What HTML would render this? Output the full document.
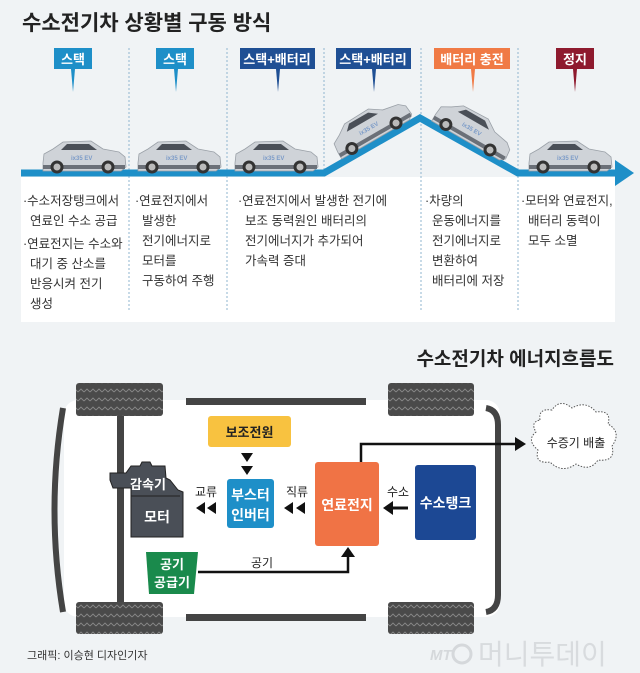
<!DOCTYPE html>
<html><head><meta charset="utf-8"><style>
body{margin:0;background:#f0f3f5;}
svg{display:block;font-family:"Liberation Sans","Noto Sans CJK KR",sans-serif;}
</style></head><body>
<svg width="640" height="673" viewBox="0 0 640 673" xmlns="http://www.w3.org/2000/svg">
<defs>
<g id="car">
<path d="M2,22 L3,13 L12,8 L22,1 L50,0 L62,8 L78,11 L84,16 L85,26 L80,30 L2,30 Z" fill="#cfd3d8" stroke="#9aa0a7" stroke-width="0.8"/>
<path d="M20,9 L26,3 L48,3 L56,9 Z" fill="#4a4f57"/>
<rect x="2" y="24" width="82" height="4" fill="#6b7078"/>
<circle cx="16" cy="26" r="6.5" fill="#333"/><circle cx="16" cy="26" r="3.5" fill="#bbb"/>
<circle cx="67" cy="26" r="6.5" fill="#333"/><circle cx="67" cy="26" r="3.5" fill="#bbb"/>
<text x="30" y="19" font-size="6" fill="#7b9bc8" font-weight="bold">ix35 EV</text>
</g>
<pattern id="tread" width="6" height="9" patternUnits="userSpaceOnUse">
<rect width="6" height="9" fill="#4a4a4a"/>
<path d="M0,5 L3,2 L6,5" fill="none" stroke="#888" stroke-width="0.9"/>
</pattern>
</defs>
<rect width="640" height="673" fill="#f0f3f5"/>
<text x="22" y="30" font-size="21" font-weight="bold" fill="#222">수소전기차 상황별 구동 방식</text>
<rect x="21" y="177" width="594" height="145" fill="#fff"/>
<g stroke="#8fb5cf" stroke-width="1" stroke-dasharray="2,2">
<line x1="129" y1="48" x2="129" y2="312"/><line x1="227" y1="48" x2="227" y2="312"/>
<line x1="324" y1="48" x2="324" y2="175"/><line x1="421" y1="48" x2="421" y2="312"/>
<line x1="518" y1="48" x2="518" y2="312"/>
</g>
<g font-size="13" font-weight="bold" fill="#fff" text-anchor="middle">
<rect x="54" y="48" width="38" height="21" fill="#1e8fc8"/><path d="M71,69 L73,92 L75,69Z" fill="#1e8fc8"/><text x="73" y="64">스택</text>
<rect x="156" y="48" width="38" height="21" fill="#1e8fc8"/><path d="M174,69 L176,92 L178,69Z" fill="#1e8fc8"/><text x="175" y="64">스택</text>
<rect x="240" y="48" width="75" height="21" fill="#1f4f94"/><path d="M276,69 L278,92 L280,69Z" fill="#1f4f94"/><text x="277" y="64">스택+배터리</text>
<rect x="336" y="48" width="75" height="21" fill="#1f4f94"/><path d="M372,69 L374,92 L376,69Z" fill="#1f4f94"/><text x="373" y="64">스택+배터리</text>
<rect x="434" y="48" width="76" height="21" fill="#f07a45"/><path d="M471,69 L473,92 L475,69Z" fill="#f07a45"/><text x="472" y="64">배터리 충전</text>
<rect x="556" y="48" width="38" height="21" fill="#8e1a2e"/><path d="M573,69 L575,92 L577,69Z" fill="#8e1a2e"/><text x="575" y="64">정지</text>
</g>
<path d="M21,173 L324,173 L420,118 L518,173 L618,173" fill="none" stroke="#1e8fc8" stroke-width="7" stroke-linejoin="miter"/>
<path d="M615,160 L634,173 L615,186Z" fill="#1e8fc8"/>
<use href="#car" x="41" y="141"/>
<use href="#car" x="136" y="141"/>
<use href="#car" x="233" y="141"/>
<use href="#car" transform="translate(325,134) rotate(-30)"/>
<use href="#car" transform="translate(445,94) rotate(30)"/>
<use href="#car" x="527" y="141"/>
<g font-size="12.5" fill="#333">
<text x="23" y="205">·수소저장탱크에서</text><text x="30" y="225">연료인 수소 공급</text>
<text x="23" y="248">·연료전지는 수소와</text><text x="30" y="268">대기 중 산소를</text><text x="30" y="288">반응시켜 전기</text><text x="30" y="308">생성</text>
<text x="135" y="205">·연료전지에서</text><text x="142" y="225">발생한</text><text x="142" y="245">전기에너지로</text><text x="142" y="265">모터를</text><text x="142" y="285">구동하여 주행</text>
<text x="238" y="205">·연료전지에서 발생한 전기에</text><text x="245" y="225">보조  동력원인 배터리의</text><text x="245" y="245">전기에너지가 추가되어</text><text x="245" y="265">가속력 증대</text>
<text x="425" y="205">·차량의</text><text x="432" y="225">운동에너지를</text><text x="432" y="245">전기에너지로</text><text x="432" y="265">변환하여</text><text x="432" y="285">배터리에 저장</text>
<text x="521" y="205">·모터와 연료전지,</text><text x="528" y="225">배터리 동력이</text><text x="528" y="245">모두 소멸</text>
</g>
<text x="614" y="365" font-size="19" font-weight="bold" fill="#222" text-anchor="end">수소전기차 에너지흐름도</text>
<rect x="64" y="400" width="436" height="217" rx="14" fill="#fff"/>
<path d="M63,408 Q46,510 63,612" fill="none" stroke="#444" stroke-width="6"/>
<path d="M486,408 Q498,410 498,425 L498,595 Q498,610 486,612" fill="none" stroke="#444" stroke-width="6"/>
<rect x="186" y="398" width="180" height="7" fill="#444"/>
<rect x="186" y="614" width="180" height="7" fill="#444"/>
<rect x="117" y="412" width="7" height="192" fill="#444"/>
<g fill="url(#tread)">
<rect x="76" y="383" width="87" height="33" rx="3"/><rect x="76" y="602" width="87" height="32" rx="3"/>
<rect x="388" y="383" width="86" height="33" rx="3"/><rect x="388" y="602" width="86" height="32" rx="3"/>
</g>
<rect x="208" y="416" width="83" height="31" rx="3" fill="#f8c240"/>
<text x="249.5" y="437" font-size="13" font-weight="bold" text-anchor="middle" fill="#222">보조전원</text>
<path d="M241,453 L253,453 L247,462Z M241,466 L253,466 L247,475Z" fill="#111"/>
<rect x="227" y="479" width="47" height="49" rx="3" fill="#1e8fc8"/>
<text x="250.5" y="500" font-size="14" font-weight="bold" text-anchor="middle" fill="#fff">부스터</text>
<text x="250.5" y="520" font-size="14" font-weight="bold" text-anchor="middle" fill="#fff">인버터</text>
<rect x="315" y="462" width="64" height="84" rx="3" fill="#f07345"/>
<text x="347" y="510" font-size="14" font-weight="bold" text-anchor="middle" fill="#fff">연료전지</text>
<rect x="415" y="465" width="61" height="75" rx="3" fill="#1c4894"/>
<text x="445.5" y="508" font-size="14" font-weight="bold" text-anchor="middle" fill="#fff">수소탱크</text>
<path d="M131,466 L140,466 L142,462 L150,462 L152,466 L165,466 L166,478 L170,480 L178,490 L183,492 L183,537 L131,537 L131,488 L113,488 L110,480 L110,473 L126,473 Z" fill="#4a4f57" stroke="#222" stroke-width="1"/>
<line x1="131" y1="496" x2="180" y2="496" stroke="#222" stroke-width="1"/>
<text x="148" y="489" font-size="13" font-weight="bold" text-anchor="middle" fill="#fff">감속기</text>
<text x="157" y="522" font-size="14" font-weight="bold" text-anchor="middle" fill="#fff">모터</text>
<path d="M146,552 L198,552 L194,594 L149,594Z" fill="#1a8a4c"/>
<text x="172" y="569" font-size="13" font-weight="bold" text-anchor="middle" fill="#fff">공기</text>
<text x="172" y="587" font-size="13" font-weight="bold" text-anchor="middle" fill="#fff">공급기</text>
<g font-size="12" fill="#222" text-anchor="middle">
<text x="206" y="496">교류</text><text x="297" y="496">직류</text><text x="398" y="496">수소</text><text x="262" y="567">공기</text>
</g>
<path d="M196,508 L205,502 L205,514Z M207,508 L216,502 L216,514Z M284,508 L293,502 L293,514Z M296,508 L305,502 L305,514Z" fill="#111"/>
<line x1="408" y1="508" x2="392" y2="508" stroke="#111" stroke-width="3"/>
<path d="M383,508 L393,501 L393,515Z" fill="#111"/>
<path d="M198,572 L348,572 L348,556" fill="none" stroke="#111" stroke-width="2.5"/>
<path d="M341,557 L348,547 L355,557Z" fill="#111"/>
<path d="M361,462 L361,444 L516,444" fill="none" stroke="#111" stroke-width="2.5"/>
<path d="M515,437 L526,444 L515,451Z" fill="#111"/>
<path d="M540,420 Q538,408 552,410 Q560,398 572,408 Q586,400 596,412 Q612,410 608,424 Q622,432 612,446 Q616,462 598,460 Q590,472 576,464 Q562,474 550,462 Q534,464 538,450 Q526,440 536,432 Q530,422 540,420Z" fill="#fff" stroke="#555" stroke-width="1" stroke-dasharray="1.5,1.5"/>
<text x="576" y="447" font-size="12" text-anchor="middle" fill="#222">수증기 배출</text>
<text x="27" y="659" font-size="11" fill="#333">그래픽: 이승현 디자인기자</text>
<text x="430" y="660" font-size="15" font-style="italic" font-weight="bold" fill="#d5d8db">MT</text>
<circle cx="462" cy="654" r="9" fill="none" stroke="#d5d8db" stroke-width="3"/>
<text x="478" y="664" font-size="28" fill="#d8dbde">머니투데이</text>
</svg>
</body></html>
